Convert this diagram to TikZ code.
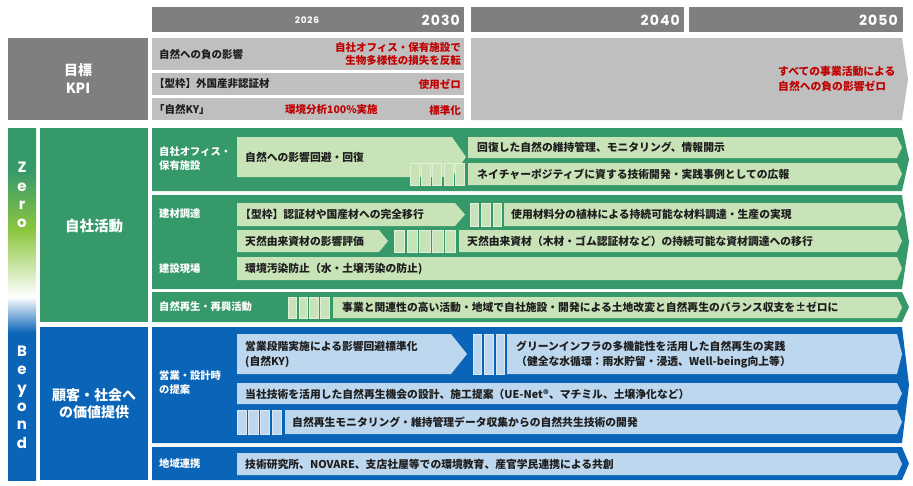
\documentclass[tikz,border=0pt]{standalone}
\usepackage{fontspec}
\setmainfont{Noto Sans CJK JP}
\newfontfamily\yearfont[LetterSpace=8]{Poppins}
\newfontfamily\latinfont{Poppins}
\usepackage{tikz}
\usetikzlibrary{positioning}
\definecolor{kpigray}{HTML}{7F7F7F}
\definecolor{kpilight}{HTML}{BFBFBF}
\definecolor{kpired}{HTML}{C00000}
\definecolor{zerogreen}{HTML}{36996A}
\definecolor{zerolime}{HTML}{8CC63F}
\definecolor{greenbar}{HTML}{C8E3B8}
\definecolor{beyondblue}{HTML}{0A64B7}
\definecolor{bluebar}{HTML}{BDD7EE}
\definecolor{bartext}{HTML}{1E1E1E}
\pgfdeclareverticalshading{zerobeyond}{100bp}{color(0bp)=(beyondblue); color(45.9bp)=(beyondblue);
  color(51bp)=(white); color(60.5bp)=(zerolime); color(69bp)=(zerogreen); color(100bp)=(zerogreen)}
\tikzset{
    headbox/.style = {fill=kpigray},
    kpibox/.style = {fill=kpilight},
    textnode/.style = {draw=none, fill=none, rectangle, inner sep=0pt, anchor=west, align=left,
      text=bartext, font=\bfseries\fontsize{10.8}{15}\selectfont},
    rednode/.style = {textnode, text=kpired, font=\bfseries\fontsize{10.5}{13}\selectfont},
    lanelabel/.style = {textnode, text=white, font=\bfseries\fontsize{10.3}{14}\selectfont},
    bignode/.style = {draw=none, inner sep=0pt, align=center, text=white,
      font=\bfseries\fontsize{14.5}{18}\selectfont},
    yearnode/.style = {draw=none, inner sep=0pt, text=white, font=\yearfont\bfseries\fontsize{14}{14}\selectfont},
    letternode/.style = {draw=none, inner sep=0pt, align=center, text=white,
      font=\latinfont\bfseries\fontsize{15}{18.4}\selectfont},
    greenstripe/.style = {fill=greenbar, draw=white!45!greenbar, line width=0.5pt},
    bluestripe/.style = {fill=bluebar, draw=white!45!bluebar, line width=0.5pt}
}
\newcommand{\arrowband}[6]{\fill[#1] (#2,#3) -- (#4,#3) -- ({#4+#6},{(#3+#5)/2}) -- (#4,#5) -- (#2,#5) -- cycle;}

\begin{document}
\begin{tikzpicture}[x=1pt, y=-1pt]
\useasboundingbox (0,0) rectangle (913,485);

\fill[headbox] (152,7) rectangle (464,32);
\fill[headbox] (471,7) rectangle (684,32);
\fill[headbox] (689,7) rectangle (903,32);
\node [yearnode, name = y2026, font=\yearfont\bfseries\fontsize{9}{9}\selectfont] at (307,20) {2026};
\node [yearnode, name = y2030, anchor=east] at (460,20) {2030};
\node [yearnode, name = y2040, anchor=east] at (680,20) {2040};
\node [yearnode, name = y2050, anchor=east] at (898,20) {2050};

\fill[headbox] (8,38) rectangle (148,120);
\node [bignode, name = kpi, font=\bfseries\fontsize{14}{18}\selectfont] at (78,79) {目標\\KPI};
\fill[kpibox] (152,38) rectangle (464,70);
\fill[kpibox] (152,73) rectangle (464,95);
\fill[kpibox] (152,98) rectangle (464,120);
\arrowband{kpibox}{471}{38}{902}{120}{6}

\node [textnode, name = negimpact, font=\bfseries\fontsize{10.5}{13}\selectfont] at (159,54) {自然への負の影響};
\node [rednode, name = reverse, anchor=east, align=right] at (461,54) {自社オフィス・保有施設で\\生物多様性の損失を反転};
\node [textnode, name = formwork, font=\bfseries\fontsize{10.5}{13}\selectfont] at (154,84) {【型枠】外国産非認証材};
\node [rednode, name = usezero, anchor=east] at (461,84) {使用ゼロ};
\node [textnode, name = shizenky, font=\bfseries\fontsize{10.5}{13}\selectfont] at (154,109) {「自然KY」};
\node [rednode, name = analysis] at (285,110) {環境分析100\%実施};
\node [rednode, name = standard, anchor=east] at (461,110) {標準化};
\node [rednode, name = allzero, font=\bfseries\fontsize{10.8}{15}\selectfont] at (778,79) {すべての事業活動による\\自然への負の影響ゼロ};

\fill[shading=zerobeyond] (8,128) rectangle (36,480);
\node [letternode, name = zero] at (22,195) {Z\\e\\r\\o};
\node [letternode, name = beyond] at (22,397) {B\\e\\y\\o\\n\\d};

\fill[zerogreen] (40,128) rectangle (148,322);
\node [bignode, name = own] at (94,226) {自社活動};
\fill[beyondblue] (40,327) rectangle (148,480);
\node [bignode, name = value, font=\bfseries\fontsize{14}{17}\selectfont] at (94,404) {顧客・社会へ\\の価値提供};

\arrowband{zerogreen}{152}{128}{902}{191}{7}
\arrowband{zerogreen}{152}{195}{902}{289}{7}
\arrowband{zerogreen}{152}{292}{902}{322}{7}
\arrowband{beyondblue}{152}{327}{902}{443}{7}
\arrowband{beyondblue}{152}{447}{902}{480}{7}

\node [lanelabel, name = office] at (159,159) {自社オフィス・\\保有施設};
\arrowband{greenbar}{237}{137}{452}{177}{14}
\arrowband{greenbar}{468}{137}{897}{158}{5}
\arrowband{greenbar}{468}{163}{897}{185}{5}
\foreach \i in {0,...,4} \fill[greenstripe] ({410+\i*11.3},163) rectangle +(9,22);
\node [textnode, name = avoid] at (245,157) {自然への影響回避・回復};
\node [textnode, name = maintain] at (477,147.5) {回復した自然の維持管理、モニタリング、情報開示};
\node [textnode, name = positive] at (477,174) {ネイチャーポジティブに資する技術開発・実践事例としての広報};

\node [lanelabel, name = procure] at (159,214) {建材調達};
\node [lanelabel, name = site] at (159,269) {建設現場};
\arrowband{greenbar}{237}{203}{455}{226}{10}
\foreach \i in {0,...,2} \fill[greenstripe] ({470+\i*11.5},203) rectangle +(8.5,23);
\arrowband{greenbar}{504}{203}{897}{226}{5}
\arrowband{greenbar}{237}{230}{379}{252}{9}
\foreach \i in {0,...,4} \fill[greenstripe] ({394+\i*12.8},230) rectangle +(10.5,22);
\arrowband{greenbar}{459}{230}{897}{252}{5}
\arrowband{greenbar}{237}{257}{897}{280}{5}
\node [textnode, name = certified] at (240,214.5) {【型枠】認証材や国産材への完全移行};
\node [textnode, name = planting] at (511,214.5) {使用材料分の植林による持続可能な材料調達・生産の実現};
\node [textnode, name = assess] at (245,241) {天然由来資材の影響評価};
\node [textnode, name = natural] at (467,241) {天然由来資材（木材・ゴム認証材など）の持続可能な資材調達への移行};
\node [textnode, name = pollution] at (245,268.5) {環境汚染防止（水・土壌汚染の防止)};

\node [lanelabel, name = regen] at (159,307) {自然再生・再興活動};
\foreach \i in {0,...,3} \fill[greenstripe] ({288+\i*10.8},297) rectangle +(8.5,21);
\arrowband{greenbar}{333}{297}{897}{318}{5}
\node [textnode, name = balance] at (342,307.5) {事業と関連性の高い活動・地域で自社施設・開発による土地改変と自然再生のバランス収支を±ゼロに};

\node [lanelabel, name = sales] at (159,383) {営業・設計時\\の提案};
\arrowband{bluebar}{237}{334}{451}{374}{16}
\foreach \i in {0,...,2} \fill[bluestripe] ({473+\i*11.5},334) rectangle +(8.5,40);
\arrowband{bluebar}{507}{334}{897}{374}{5}
\arrowband{bluebar}{237}{383}{897}{404}{5}
\foreach \i in {0,...,3} \fill[bluestripe] ({237+\i*11.6},410) rectangle +(9.5,24);
\arrowband{bluebar}{285}{410}{897}{434}{5}
\node [textnode, name = salesstd] at (245,354.5) {営業段階実施による影響回避標準化\\(自然KY)};
\node [textnode, name = greeninfra] at (516,354.5) {グリーンインフラの多機能性を活用した自然再生の実践\\（健全な水循環：雨水貯留・浸透、Well-being向上等）};
\node [textnode, name = proposal] at (245,394) {当社技術を活用した自然再生機会の設計、施工提案（UE-Net®、マチミル、土壌浄化など）};
\node [textnode, name = monitoring] at (292,422.5) {自然再生モニタリング・維持管理データ収集からの自然共生技術の開発};

\node [lanelabel, name = region] at (159,464) {地域連携};
\arrowband{bluebar}{237}{453}{897}{475}{5}
\node [textnode, name = cocreate] at (245,464) {技術研究所、NOVARE、支店社屋等での環境教育、産官学民連携による共創};

\end{tikzpicture}
\end{document}
